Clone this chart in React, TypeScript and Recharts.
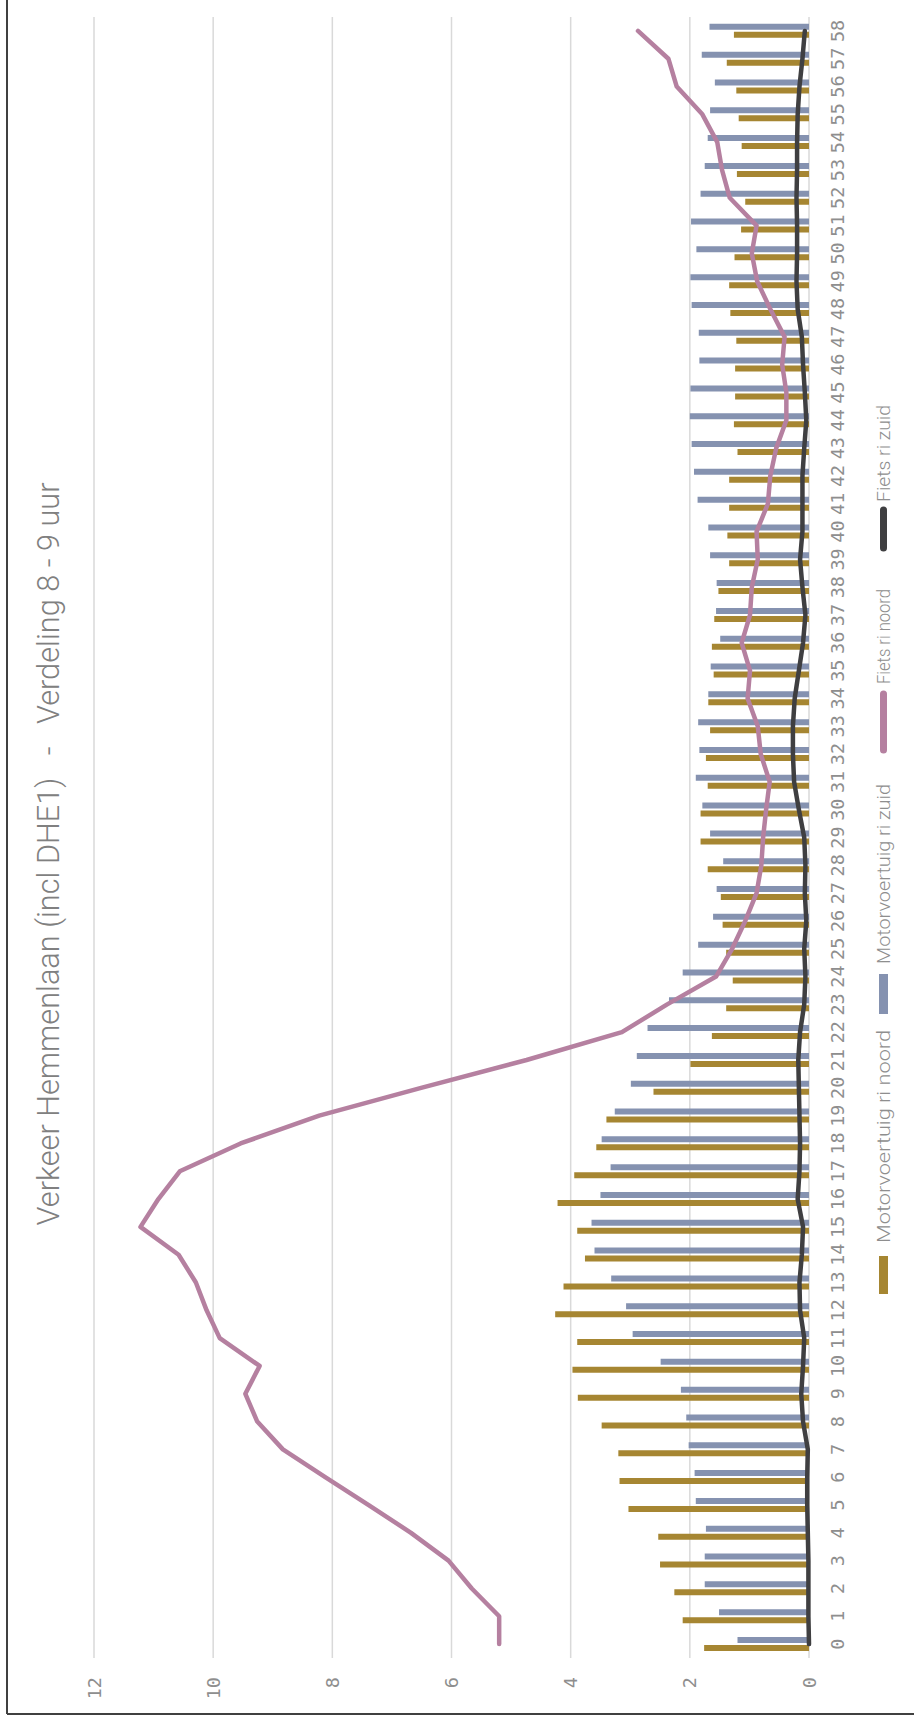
import React from "react";
import { ComposedChart, Bar, Line, XAxis, YAxis, CartesianGrid } from "recharts";

// tijdvakken (categorie-as)
const categories = [
  "0", "1", "2", "3", "4", "5", "6", "7", "8", "9", "10", "11", "12", "13", "14",
  "15", "16", "17", "18", "19", "20", "21", "22", "23", "24", "25", "26", "27", "28", "29",
  "30", "31", "32", "33", "34", "35", "36", "37", "38", "39", "40", "41", "42", "43", "44",
  "45", "46", "47", "48", "49", "50", "51", "52", "53", "54", "55", "56", "57", "58",
];

const motorNoord = [
  1.76, 2.12, 2.26, 2.5, 2.53, 3.03, 3.18, 3.2, 3.48, 3.88, 3.97, 3.89, 4.26, 4.12, 3.76,
  3.89, 4.22, 3.94, 3.57, 3.4, 2.61, 1.99, 1.63, 1.39, 1.28, 1.39, 1.45, 1.48, 1.7, 1.82,
  1.82, 1.7, 1.73, 1.66, 1.69, 1.6, 1.63, 1.59, 1.52, 1.34, 1.37, 1.34, 1.34, 1.2, 1.26,
  1.24, 1.24, 1.22, 1.32, 1.34, 1.25, 1.14, 1.07, 1.21, 1.13, 1.18, 1.22, 1.38, 1.26,
];

const motorZuid = [
  1.2, 1.51, 1.75, 1.75, 1.73, 1.9, 1.92, 2.02, 2.06, 2.15, 2.49, 2.96, 3.07, 3.32, 3.6,
  3.65, 3.5, 3.33, 3.48, 3.26, 2.99, 2.89, 2.71, 2.35, 2.12, 1.86, 1.61, 1.55, 1.44, 1.66,
  1.79, 1.9, 1.84, 1.86, 1.69, 1.65, 1.49, 1.56, 1.55, 1.66, 1.69, 1.87, 1.93, 1.97, 2.0,
  1.99, 1.84, 1.85, 1.97, 1.99, 1.89, 1.98, 1.82, 1.75, 1.7, 1.66, 1.58, 1.8, 1.67,
];

const fietsNoord = [
  5.2, 5.2, 5.66, 6.05, 6.68, 7.39, 8.12, 8.83, 9.26, 9.46, 9.22, 9.89, 10.11, 10.29, 10.58,
  11.22, 10.92, 10.56, 9.54, 8.22, 6.51, 4.74, 3.14, 2.38, 1.56, 1.29, 1.07, 0.88, 0.8, 0.77,
  0.72, 0.66, 0.81, 0.86, 1.03, 0.99, 1.13, 0.99, 0.96, 0.86, 0.88, 0.69, 0.65, 0.55, 0.38,
  0.38, 0.45, 0.41, 0.65, 0.87, 0.96, 0.88, 1.33, 1.46, 1.54, 1.79, 2.22, 2.36, 2.87,
];

const fietsZuid = [
  0, 0.01, 0.01, 0.01, 0.02, 0.03, 0.03, 0.02, 0.1, 0.13, 0.1, 0.08, 0.15, 0.16, 0.12,
  0.1, 0.19, 0.16, 0.15, 0.16, 0.17, 0.18, 0.15, 0.08, 0.06, 0.08, 0.045, 0.07, 0.06, 0.08,
  0.17, 0.25, 0.27, 0.27, 0.24, 0.17, 0.1, 0.06, 0.11, 0.15, 0.11, 0.11, 0.11, 0.08, 0.045,
  0.07, 0.1, 0.12, 0.19, 0.21, 0.2, 0.2, 0.21, 0.2, 0.2, 0.19, 0.16, 0.11, 0.07,
];

const seriesNames = ["Motorvoertuig ri noord", "Motorvoertuig ri zuid", "Fiets ri noord", "Fiets ri zuid"];
const valueTicks = [0, 2, 4, 6, 8, 10, 12];
const title = "Verkeer Hemmenlaan (incl DHE1)   -   Verdeling 8 - 9 uur";

const GOLD = "#A68632";
const BLUE = "#8592B0";
const PINK = "#B580A0";
const DARK = "#3F3F41";
const TEXT = "#8E8E8E";

// grafiek wordt liggend getekend en daarna 90 graden gedraaid
const W = 1726;
const H = 914;
const PLOT_LEFT = 68;
const PLOT_BOTTOM = 809;

const data = categories.map((c, i) => ({
  cat: c,
  mn: motorNoord[i],
  mz: motorZuid[i],
  fn: fietsNoord[i],
  fz: fietsZuid[i],
}));

const tickFont = '"DejaVu Sans Mono", monospace';
const labelFont = 'Roboto, "Noto Sans", sans-serif';

function CatTick(props: any) {
  const { x, payload } = props;
  return (
    <text
      x={x}
      y={PLOT_BOTTOM + 28.5}
      textAnchor="middle"
      dominantBaseline="central"
      fontFamily={tickFont}
      fontSize={18.5}
      fill={TEXT}
    >
      {payload.value}
    </text>
  );
}

function ValueTick(props: any) {
  const { y, payload } = props;
  return (
    <text
      x={PLOT_LEFT - 19}
      y={y}
      textAnchor="end"
      dominantBaseline="central"
      fontFamily={tickFont}
      fontSize={18.5}
      fill={TEXT}
    >
      {payload.value}
    </text>
  );
}

function LegendText({ x, y, w, children }: any) {
  return (
    <text
      x={x}
      y={y}
      dominantBaseline="central"
      fontFamily={labelFont}
      fontWeight={300}
      fontSize={19}
      fill={TEXT}
      textLength={w}
      lengthAdjust="spacingAndGlyphs"
    >
      {children}
    </text>
  );
}

function Overlay() {
  const ly = 883.5;
  return (
    <svg
      width={W}
      height={H}
      style={{ position: "absolute", left: 0, top: 0, pointerEvents: "none" }}
    >
      {/* rand */}
      <line x1={12} y1={7} x2={W} y2={7} stroke="#404040" strokeWidth={2} />
      <line x1={12} y1={7} x2={12} y2={H} stroke="#404040" strokeWidth={2} />

      <text
        x={872}
        y={59}
        textAnchor="middle"
        fontFamily={labelFont}
        fontWeight={300}
        fontSize={31}
        fill="#808080"
        textLength={743}
        lengthAdjust="spacingAndGlyphs"
        style={{ whiteSpace: "pre" }}
      >
        {title}
      </text>

      {/* legenda */}
      <rect x={432} y={ly - 4.5} width={38} height={9} fill={GOLD} />
      <LegendText x={483} y={ly} w={213}>{seriesNames[0]}</LegendText>

      <rect x={712} y={ly - 4.5} width={40} height={9} fill={BLUE} />
      <LegendText x={762} y={ly} w={180}>{seriesNames[1]}</LegendText>

      <line x1={976} y1={ly} x2={1032} y2={ly} stroke={PINK} strokeWidth={7} strokeLinecap="round" />
      <LegendText x={1042} y={ly} w={95}>{seriesNames[2]}</LegendText>

      <line x1={1178} y1={ly} x2={1216} y2={ly} stroke={DARK} strokeWidth={7} strokeLinecap="round" />
      <LegendText x={1224} y={ly} w={97}>{seriesNames[3]}</LegendText>
    </svg>
  );
}

export default function App() {
  return (
    <div style={{ position: "absolute", left: 0, top: 0, width: H, height: W, overflow: "hidden", background: "#fff" }}>
      <div
        style={{
          position: "absolute",
          left: 0,
          top: 0,
          width: W,
          height: H,
          transformOrigin: "top left",
          transform: `translateY(${W}px) rotate(-90deg)`,
        }}
      >
        <ComposedChart
          width={W}
          height={H}
          data={data}
          margin={{ top: 94, right: 17, bottom: 0, left: 8 }}
          barGap={2}
        >
          <CartesianGrid vertical={false} stroke="#D9D9D9" strokeWidth={1.5} />
          <XAxis
            dataKey="cat"
            interval={0}
            height={105}
            axisLine={false}
            tickLine={false}
            tick={<CatTick />}
          />
          <YAxis
            domain={[0, 12]}
            ticks={valueTicks}
            interval={0}
            width={60}
            axisLine={false}
            tickLine={false}
            tick={<ValueTick />}
          />
          <Bar dataKey="mn" name={seriesNames[0]} fill={GOLD} barSize={6} isAnimationActive={false} />
          <Bar dataKey="mz" name={seriesNames[1]} fill={BLUE} barSize={6} isAnimationActive={false} />
          <Line
            type="linear"
            dataKey="fn"
            name={seriesNames[2]}
            stroke={PINK}
            strokeWidth={4.5}
            strokeLinejoin="round"
            strokeLinecap="round"
            dot={false}
            activeDot={false}
            isAnimationActive={false}
          />
          <Line
            type="linear"
            dataKey="fz"
            name={seriesNames[3]}
            stroke={DARK}
            strokeWidth={4.5}
            strokeLinejoin="round"
            strokeLinecap="round"
            dot={false}
            activeDot={false}
            isAnimationActive={false}
          />
        </ComposedChart>
        <Overlay />
      </div>
    </div>
  );
}
